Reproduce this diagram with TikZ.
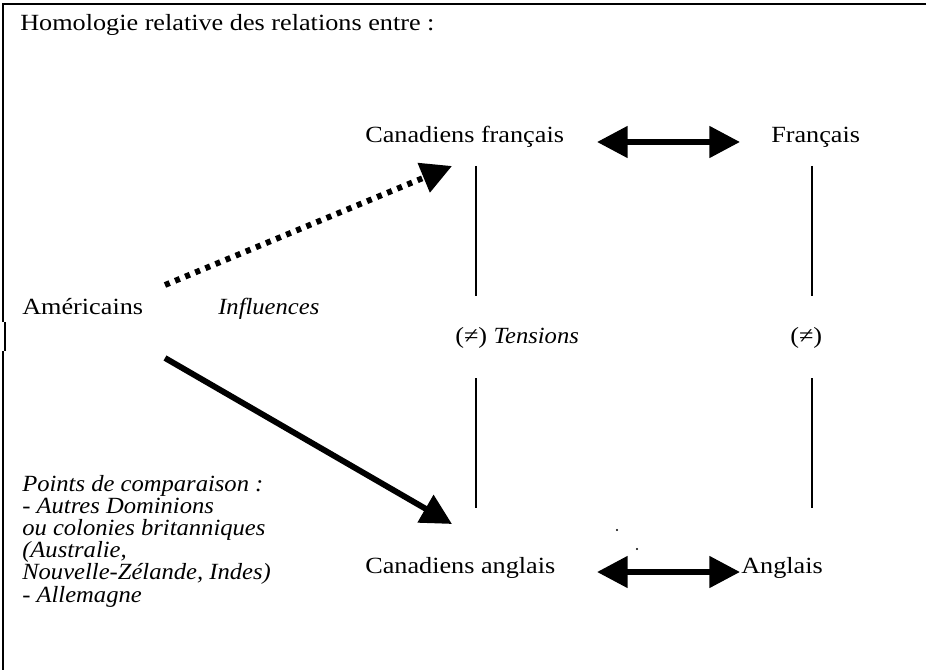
\documentclass[tikz,border=0pt]{standalone}
\usepackage{fontspec}
\setmainfont[FakeStretch=1.13, ItalicFeatures={FakeStretch=1.06}]{Liberation Serif}
\usetikzlibrary{arrows.meta}
\tikzset{
  lbl/.style={inner sep=0pt, anchor=base west, font=\fontsize{17.4}{16.6}\selectfont},
  ilbl/.style={lbl, font=\fontsize{17.4}{16.6}\selectfont\itshape},
  bigtip/.style={-{Triangle[length=23pt,width=23pt]}},
  dbltip/.style={{Triangle[length=23pt,width=23pt]}-{Triangle[length=23pt,width=23pt]}},
  thick arrow/.style={line width=4.4pt},
  vline/.style={line width=1.3pt},
  frame/.style={line width=1.2pt}
}
\begin{document}
\begin{tikzpicture}[x=0.75pt,y=-0.75pt]
\useasboundingbox (0,0) rectangle (927,670);
% frame (partial)
\draw[frame] (926,4) -- (3,4) -- (3,322);
\draw[frame] (5,322) -- (5,351);
\draw[frame] (3,351) -- (3,670);
% texts
\node[lbl] (title) at (20,31) {Homologie relative des relations entre :};
\node[lbl] (cf) at (365,143) {Canadiens français};
\node[lbl] (fr) at (771,143) {Français};
\node[lbl] (am) at (22,314) {Américains};
\node[ilbl] (inf) at (218,314) {Influences};
\node[lbl] (tens) at (455,343) {(≠) \textit{Tensions}};
\node[lbl] (neq) at (790,343) {(≠)};
\node[lbl] (ca) at (365,573) {Canadiens anglais};
\node[lbl] (an) at (741,573) {Anglais};
\node[ilbl, anchor=north west, align=left] (pts) at (22,475) {Points de comparaison :\\- Autres Dominions\\ou colonies britanniques\\(Australie,\\Nouvelle-Zélande, Indes)\\- Allemagne};
% arrows
\draw[thick arrow, dash pattern=on 3.8pt off 4.4pt, bigtip]
  ([shift={(143,-29)}]am.base west) -- ([shift={(87,23)}]cf.base west);
\draw[thick arrow, bigtip]
  ([shift={(143,44)}]am.base west) -- ([shift={(87,-49)}]ca.base west);
\draw[thick arrow, dbltip]
  ([shift={(232,-1)}]cf.base west) -- ([shift={(-31,-1)}]fr.base west);
\draw[thick arrow, dbltip]
  ([shift={(232,-1)}]ca.base west) -- ([shift={(-1,-1)}]an.base west);
% vertical lines
\draw[vline] ([shift={(111,23)}]cf.base west) -- ([shift={(111,153)}]cf.base west);
\draw[vline] ([shift={(111,-195)}]ca.base west) -- ([shift={(111,-65)}]ca.base west);
\draw[vline] ([shift={(41,23)}]fr.base west) -- ([shift={(41,153)}]fr.base west);
\draw[vline] ([shift={(71,-195)}]an.base west) -- ([shift={(71,-65)}]an.base west);
% stray dots
\fill (617,530) circle (1.2);
\fill (637,549) circle (1.2);
\end{tikzpicture}
\end{document}
